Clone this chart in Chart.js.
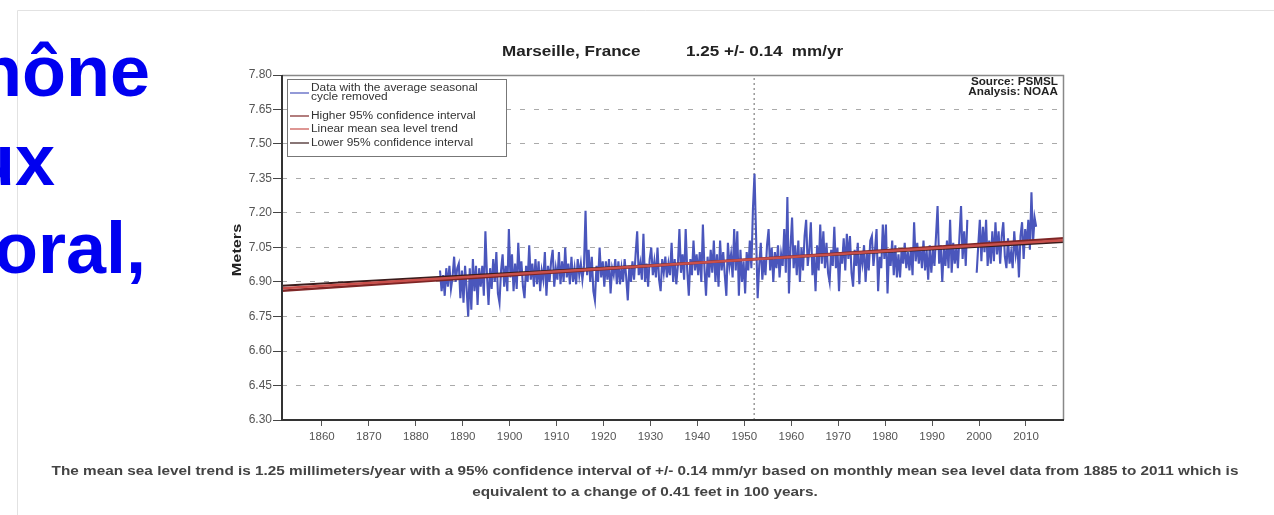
<!DOCTYPE html>
<html>
<head>
<meta charset="utf-8">
<script src="https://cdn.jsdelivr.net/npm/chart.js@4.4.0/dist/chart.umd.min.js"></script>
<style>
    body { margin: 0; background: #fff; }
    canvas { display: block; }
</style>
</head>
<body>
<canvas id="chart" width="1274" height="515"></canvas>
<script>
// Monthly mean sea level (seasonal cycle removed), 3 readings per year, in meters
const firstYear = 1885;
const lvl1880s = [6.95, 6.86, 6.93, 6.84, 6.96, 6.88, 6.97, 6.87, 6.92, 7.01, 6.90, 6.96, 6.98, 6.83, 6.95];
const lvl1890s = [6.81, 6.97, 6.87, 6.75, 6.96, 6.78, 7.00, 6.86, 6.97, 6.80, 6.96, 6.88, 6.97, 6.84, 7.12,
                  6.93, 6.80, 6.96, 6.87, 7.00, 6.90, 7.03, 6.85, 6.81, 6.95, 7.02, 6.88, 6.97, 6.86, 7.13];
const lvl1900s = [6.92, 7.02, 6.86, 6.98, 6.87, 7.07, 6.93, 6.99, 6.88, 6.83, 6.97, 6.90, 7.06, 6.91, 6.98,
                  6.88, 7.00, 6.89, 6.99, 6.86, 6.95, 6.91, 7.03, 6.84, 6.97, 6.90, 6.99, 7.04, 6.88, 6.96];
const lvl1910s = [6.91, 7.03, 6.89, 6.99, 6.90, 7.05, 6.92, 6.98, 6.89, 7.01, 6.90, 6.96, 6.89, 7.00, 6.93,
                  6.98, 6.91, 6.97, 7.21, 6.93, 7.04, 6.90, 7.01, 6.86, 6.82, 6.97, 6.90, 7.05, 6.92, 6.99];
const lvl1920s = [6.88, 6.99, 6.91, 7.00, 6.85, 6.96, 6.93, 7.00, 6.89, 6.99, 6.89, 6.96, 6.90, 7.00, 6.92,
                  6.82, 6.97, 6.90, 6.99, 6.91, 7.02, 7.12, 6.93, 6.98, 6.91, 7.11, 6.90, 6.98, 6.88, 7.00];
const lvl1930s = [7.05, 6.93, 6.99, 6.92, 7.05, 6.91, 6.86, 7.00, 6.94, 7.01, 6.92, 6.98, 6.93, 7.07, 6.90,
                  7.00, 6.89, 6.97, 7.13, 6.94, 7.02, 6.91, 7.13, 6.95, 6.84, 7.00, 6.93, 7.08, 6.95, 7.02];
const lvl1940s = [6.93, 7.03, 6.90, 7.15, 6.96, 6.84, 7.01, 6.92, 7.04, 6.94, 7.08, 6.90, 7.02, 6.88, 7.08,
                  6.95, 7.03, 6.93, 6.84, 7.07, 6.97, 7.02, 6.92, 7.13, 6.95, 7.12, 6.84, 7.04, 6.90, 6.99];
const lvl1950s = [6.85, 7.03, 6.95, 7.08, 6.96, 7.22, 7.37, 7.10, 6.83, 6.97, 7.07, 6.91, 7.00, 6.93, 7.06,
                  7.13, 6.95, 7.05, 6.90, 7.03, 6.96, 7.06, 6.92, 7.02, 6.97, 7.13, 6.94, 7.27, 6.85, 7.05];
const lvl1960s = [7.18, 6.96, 7.06, 6.93, 7.08, 6.90, 7.05, 6.95, 7.10, 7.17, 6.97, 7.04, 7.16, 6.93, 7.02,
                  6.86, 7.06, 6.95, 7.15, 6.98, 7.12, 6.96, 7.07, 6.94, 6.90, 7.04, 6.97, 7.14, 6.96, 7.05];
const lvl1970s = [6.86, 7.03, 6.98, 7.09, 6.95, 7.11, 7.00, 7.10, 6.94, 6.88, 7.04, 6.97, 7.07, 6.89, 7.03,
                  6.98, 7.06, 6.90, 7.03, 6.95, 7.08, 7.10, 6.97, 7.04, 7.13, 6.86, 7.01, 6.96, 7.15, 7.00];
const lvl1980s = [7.15, 6.85, 7.04, 6.97, 7.08, 6.93, 7.06, 6.92, 7.02, 6.92, 7.04, 6.98, 7.07, 6.96, 7.03,
                  6.95, 7.05, 6.93, 7.16, 6.99, 7.07, 6.98, 7.05, 6.96, 7.08, 6.95, 7.04, 6.91, 7.06, 6.94];
const lvl1990s = [7.04, 6.97, 7.10, 7.23, 6.98, 7.06, 6.90, 7.05, 6.97, 7.08, 6.96, 7.17, 6.94, 7.07, 6.98,
                  7.05, 6.96, 7.10, 7.23, 7.00, 7.12, 6.97, 7.17, null, null, null, null, null, 6.94, 7.06];
const lvl2000s = [7.17, 6.99, 7.14, 7.03, 7.17, 6.97, 7.08, 6.98, 7.12, 6.99, 7.16, 7.02, 7.12, 6.98, 7.10,
                  7.16, 7.01, 6.96, 7.09, 6.98, 7.03, 6.96, 7.12, 7.02, 7.07, 6.92, 7.10, 7.16, 7.00, 7.13];
const lvl2010s = [7.06, 7.17, 7.04, 7.29, 7.07, 7.18, 7.14];
const perYear = 3;

// Trend and 95% confidence interval, end points
const trendYears = [1851.5, 2018.1];
const trendLine = [6.873, 7.082];
const upperCi = [6.862, 7.090];
const lowerCi = [6.884, 7.074];

// Datum change marker
const markerYear = 1952.1;

const xTicks = [1860, 1870, 1880, 1890, 1900, 1910, 1920, 1930, 1940, 1950, 1960, 1970, 1980, 1990, 2000, 2010];
const yTicks = [6.30, 6.45, 6.60, 6.75, 6.90, 7.05, 7.20, 7.35, 7.50, 7.65, 7.80];

const FONT = '"Liberation Sans", Arial, sans-serif';
const colData = '#4a56bc';
const colUpper = '#7e2626';
const colTrend = '#c9504c';
const colLower = '#3a1c1c';

const allLevels = [].concat(lvl1880s, lvl1890s, lvl1900s, lvl1910s, lvl1920s, lvl1930s,
    lvl1940s, lvl1950s, lvl1960s, lvl1970s, lvl1980s, lvl1990s, lvl2000s, lvl2010s);
const seaLevel = allLevels.map((v, i) => ({ x: firstYear + (i + 0.5) / perYear, y: v }));

function pairs(xs, ys) {
    return xs.map((x, i) => ({ x: x, y: ys[i] }));
}

// the source picture is a little stretched sideways, so is its text
function wideText(ctx, text, x, y, sx) {
    ctx.save();
    ctx.translate(x, y);
    ctx.scale(sx, 1);
    ctx.fillText(text, 0, 0);
    ctx.restore();
}

// Texts, legend box and frame drawn around the plot
const extras = {
    id: 'extras',
    beforeDraw(chart) {
        const ctx = chart.ctx;
        ctx.save();
        ctx.fillStyle = '#fff';
        ctx.fillRect(0, 0, chart.width, chart.height);
        ctx.strokeStyle = '#e2e2e2';
        ctx.lineWidth = 1;
        ctx.beginPath();
        ctx.moveTo(17.5, 515);
        ctx.lineTo(17.5, 10.5);
        ctx.lineTo(1274, 10.5);
        ctx.stroke();
        ctx.restore();
    },
    afterDraw(chart) {
        const ctx = chart.ctx;
        const a = chart.chartArea;
        ctx.save();

        // plot frame
        ctx.strokeStyle = '#888';
        ctx.lineWidth = 1.5;
        ctx.beginPath();
        ctx.moveTo(a.left, a.top + 0.5);
        ctx.lineTo(a.right - 0.5, a.top + 0.5);
        ctx.lineTo(a.right - 0.5, a.bottom);
        ctx.stroke();
        ctx.strokeStyle = '#333';
        ctx.lineWidth = 2;
        ctx.beginPath();
        ctx.moveTo(a.left, a.top);
        ctx.lineTo(a.left, a.bottom);
        ctx.lineTo(a.right, a.bottom);
        ctx.stroke();

        // title
        ctx.fillStyle = '#222';
        ctx.font = 'bold 14px ' + FONT;
        ctx.textBaseline = 'middle';
        ctx.textAlign = 'left';
        wideText(ctx, 'Marseille, France', 502, 52, 1.22);
        wideText(ctx, '1.25 +/- 0.14  mm/yr', 686, 52, 1.22);

        // source
        ctx.font = 'bold 10px ' + FONT;
        ctx.textAlign = 'right';
        wideText(ctx, 'Source: PSMSL', 1058, 82, 1.17);
        wideText(ctx, 'Analysis: NOAA', 1058, 92, 1.17);

        // y axis title
        ctx.save();
        ctx.translate(237, 250);
        ctx.rotate(-Math.PI / 2);
        ctx.scale(1.25, 1);
        ctx.textAlign = 'center';
        ctx.font = 'bold 13px ' + FONT;
        ctx.fillStyle = '#222';
        ctx.fillText('Meters', 0, 0);
        ctx.restore();

        // legend
        ctx.fillStyle = '#fff';
        ctx.fillRect(287, 79, 219, 77);
        ctx.strokeStyle = '#777';
        ctx.lineWidth = 1;
        ctx.strokeRect(287.5, 79.5, 219, 77);
        const entries = [
            { c: colData, y: 93, t: ['Data with the average seasonal', 'cycle removed'] },
            { c: colUpper, y: 116, t: ['Higher 95% confidence interval'] },
            { c: colTrend, y: 129, t: ['Linear mean sea level trend'] },
            { c: colLower, y: 143, t: ['Lower 95% confidence interval'] }
        ];
        ctx.font = '10px ' + FONT;
        ctx.textAlign = 'left';
        entries.forEach(e => {
            ctx.strokeStyle = e.c;
            ctx.lineWidth = 1.2;
            ctx.beginPath();
            ctx.moveTo(290, e.y);
            ctx.lineTo(309, e.y);
            ctx.stroke();
            ctx.fillStyle = '#333';
            if (e.t.length === 2) {
                wideText(ctx, e.t[0], 311, e.y - 5, 1.19);
                wideText(ctx, e.t[1], 311, e.y + 4, 1.19);
            } else {
                wideText(ctx, e.t[0], 311, e.y, 1.19);
            }
        });

        // caption
        ctx.fillStyle = '#444';
        ctx.font = 'bold 12.5px ' + FONT;
        ctx.textAlign = 'center';
        wideText(ctx, 'The mean sea level trend is 1.25 millimeters/year with a 95% confidence interval of +/- 0.14 mm/yr based on monthly mean sea level data from 1885 to 2011 which is', 645, 472, 1.225);
        wideText(ctx, 'equivalent to a change of 0.41 feet in 100 years.', 645, 493, 1.225);

        // slide text cut by the left edge
        ctx.fillStyle = '#0000f0';
        ctx.font = 'bold 72px ' + FONT;
        ctx.textAlign = 'right';
        ctx.textBaseline = 'alphabetic';
        ctx.fillText('hône', 150, 96);
        ctx.fillText('ux', 55, 185);
        ctx.fillText('oral,', 146, 273);

        ctx.restore();
    }
};

new Chart(document.getElementById('chart'), {
    type: 'line',
    data: {
        datasets: [
            {
                label: 'Linear mean sea level trend',
                data: pairs(trendYears, trendLine),
                borderColor: colTrend,
                borderWidth: 2.5,
                pointRadius: 0,
                order: 0
            },
            {
                label: 'Higher 95% confidence interval',
                data: pairs(trendYears, upperCi),
                borderColor: colUpper,
                borderWidth: 2.5,
                pointRadius: 0,
                order: 1
            },
            {
                label: 'Lower 95% confidence interval',
                data: pairs(trendYears, lowerCi),
                borderColor: colLower,
                borderWidth: 2,
                pointRadius: 0,
                order: 1
            },
            {
                label: 'Data with the average seasonal cycle removed',
                data: seaLevel,
                borderColor: colData,
                borderWidth: 2.1,
                pointRadius: 0,
                spanGaps: false,
                order: 2
            },
            {
                label: 'marker',
                data: pairs([markerYear, markerYear], [yTicks[0], yTicks[yTicks.length - 1]]),
                borderColor: '#999',
                borderWidth: 1.5,
                borderDash: [2, 3],
                pointRadius: 0,
                order: 3
            }
        ]
    },
    options: {
        responsive: false,
        devicePixelRatio: 1,
        animation: false,
        layout: { padding: { left: 0, top: 75, right: 210, bottom: 55 } },
        plugins: {
            legend: { display: false },
            title: { display: false },
            tooltip: { enabled: false }
        },
        scales: {
            x: {
                type: 'linear',
                min: 1851.5,
                max: 2018.1,
                afterBuildTicks: s => { s.ticks = xTicks.map(v => ({ value: v })); },
                afterFit: s => { s.height = 40; },
                grid: {
                    drawOnChartArea: false,
                    tickLength: 6,
                    tickColor: '#555'
                },
                border: { display: false },
                ticks: {
                    autoSkip: false,
                    maxRotation: 0,
                    padding: 4,
                    color: '#555',
                    font: { family: FONT, size: 11.5 },
                    callback: v => String(v)
                }
            },
            y: {
                min: 6.30,
                max: 7.80,
                afterBuildTicks: s => { s.ticks = yTicks.map(v => ({ value: v })); },
                afterFit: s => { s.width = 282; },
                grid: {
                    color: '#aaa',
                    lineWidth: 1,
                    tickLength: 9,
                    tickColor: '#444',
                    tickBorderDash: []
                },
                border: { display: false, dash: [5, 9] },
                ticks: {
                    padding: 1,
                    color: '#555',
                    font: { family: FONT, size: 12 },
                    callback: v => v.toFixed(2)
                }
            }
        }
    },
    plugins: [extras]
});
</script>
</body>
</html>
